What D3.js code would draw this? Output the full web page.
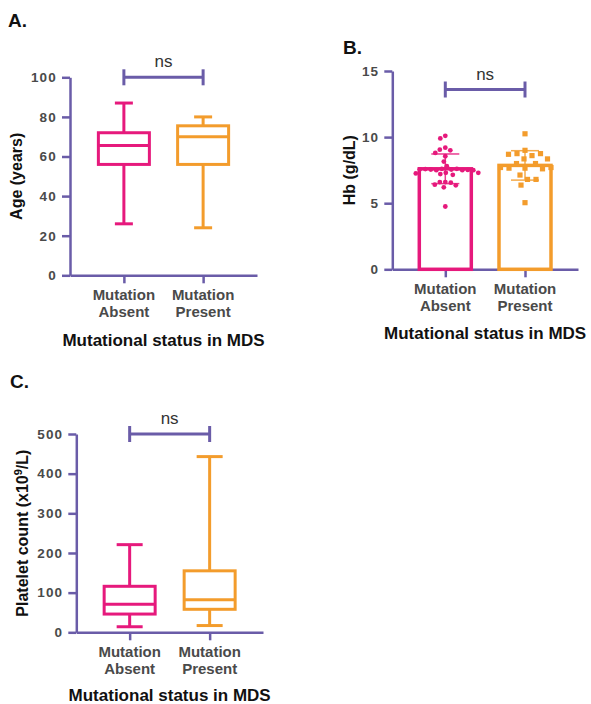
<!DOCTYPE html>
<html>
<head>
<meta charset="utf-8">
<script src="https://cdn.jsdelivr.net/npm/d3@7"></script>
<style>
  html, body { margin: 0; padding: 0; background: #ffffff; }
  svg { display: block; font-family: "Liberation Sans", Arial, sans-serif; }
</style>
</head>
<body>
<svg id="chart" width="591" height="704"></svg>
<script>
// ---------------- DATA ----------------
const categories = ["Mutation Absent", "Mutation Present"];
const categoryLines = [["Mutation", "Absent"], ["Mutation", "Present"]];
const xTitle = "Mutational status in MDS";

// Panel A: Age (years) box plot [min, q1, median, q3, max]
const ageTicks = [0, 20, 40, 60, 80, 100];
const ageAbsent = [26, 56, 65.5, 72, 87];
const agePresent = [24, 56, 70, 75.5, 80];

// Panel B: Hb (g/dL) individual values
const hbTicks = [0, 5, 10, 15];
const hbAbsent = [10.1, 9.9, 9.2, 9.05, 9.0, 8.8, 8.55, 8.15, 7.8,
  7.6, 7.55, 7.5, 7.6, 7.55, 7.5, 7.58, 7.52, 7.56, 7.5,
  7.3, 7.25, 7.2, 7.3, 7.15, 6.6, 6.6, 6.55, 6.4, 6.35, 6.2, 4.75];
const hbPresent = [10.25, 9.0, 8.75, 8.6, 8.75, 8.7, 8.35, 8.35, 8.0, 8.0,
  7.65, 7.65, 7.6, 7.7, 7.7, 7.13, 6.8, 6.8, 6.37, 5.04];

// Panel C: Platelet count box plot [min, q1, median, q3, max]
const pltTicks = [0, 100, 200, 300, 400, 500];
const pltAbsent = [14, 46, 71, 116, 221];
const pltPresent = [17, 58, 82, 155, 443];

const sigLabel = "ns";

// ---------------- STYLE ----------------
const PINK = "#E6197C";
const ORANGE = "#F39C2C";
const AXIS = "#6A5CA8";
const TICKTXT = "#4a4a4a";
const colors = [PINK, ORANGE];

const svg = d3.select("#chart");

function panel(opts) {
  const g = svg.append("g");
  const x = d3.scalePoint().domain(categories).range(opts.xRange).padding(opts.pad);
  const y = d3.scaleLinear().domain(opts.domain).range(opts.yRange);

  // y axis
  const yAxis = d3.axisLeft(y).tickValues(opts.ticks).tickSize(8).tickPadding(5).tickSizeOuter(0);
  const ya = g.append("g").attr("transform", `translate(${opts.xRange[0]},0)`).call(yAxis);
  ya.select(".domain").attr("stroke", AXIS).attr("stroke-width", 2.5);
  ya.selectAll(".tick line").attr("stroke", AXIS).attr("stroke-width", 2.5);
  ya.selectAll(".tick text").attr("fill", TICKTXT).attr("font-size", 13.5).attr("font-weight", "bold")
    .attr("letter-spacing", "1.2px").attr("font-family", "'Liberation Sans', Arial, sans-serif");

  // x axis
  const xAxis = d3.axisBottom(x).tickSize(8).tickSizeOuter(0).tickFormat("");
  const xa = g.append("g").attr("transform", `translate(0,${opts.yRange[0]})`).call(xAxis);
  xa.select(".domain").attr("stroke", AXIS).attr("stroke-width", 2.5);
  xa.selectAll(".tick line").attr("stroke", AXIS).attr("stroke-width", 2.5);

  // category labels
  categories.forEach((c, i) => {
    const t = g.append("text").attr("x", x(c)).attr("text-anchor", "middle")
      .attr("fill", TICKTXT).attr("font-size", 15).attr("font-weight", "bold");
    t.append("tspan").attr("x", x(c)).attr("y", opts.yRange[0] + 25).text(categoryLines[i][0]);
    t.append("tspan").attr("x", x(c)).attr("y", opts.yRange[0] + 41.5).text(categoryLines[i][1]);
  });

  // x title
  const xmid = (x(categories[0]) + x(categories[1])) / 2;
  g.append("text").attr("x", xmid).attr("y", opts.xTitleY).attr("text-anchor", "middle")
    .attr("font-size", 17).attr("font-weight", "bold").attr("fill", "#111").text(xTitle);

  // y title
  const yt = g.append("text").attr("transform", `translate(${opts.yTitleX},${(opts.yRange[0] + opts.yRange[1]) / 2}) rotate(-90)`)
    .attr("text-anchor", "middle").attr("font-size", 16).attr("font-weight", "bold").attr("fill", "#111");
  opts.yTitle.forEach(p => {
    const ts = yt.append("tspan").text(p.t);
    if (p.sup) ts.attr("font-size", 11).attr("dy", -6);
    if (p.after) ts.attr("dy", 6);
  });

  // panel label
  g.append("text").attr("x", opts.label[1]).attr("y", opts.label[2]).attr("font-size", 19)
    .attr("font-weight", "bold").attr("fill", "#111").text(opts.label[0]);

  // significance bracket
  const by = y(opts.bracket);
  const x0 = x(categories[0]), x1 = x(categories[1]);
  const bg = g.append("g").attr("stroke", AXIS).attr("stroke-width", 3).attr("fill", "none");
  bg.append("line").attr("x1", x0).attr("x2", x1).attr("y1", by).attr("y2", by);
  bg.append("line").attr("x1", x0).attr("x2", x0).attr("y1", by - 8).attr("y2", by + 8);
  bg.append("line").attr("x1", x1).attr("x2", x1).attr("y1", by - 8).attr("y2", by + 8);
  g.append("text").attr("x", (x0 + x1) / 2).attr("y", by - 10).attr("text-anchor", "middle")
    .attr("font-size", 17).attr("fill", "#333").text(sigLabel);

  return { g, x, y };
}

function boxes(p, data, boxW, capW) {
  data.forEach((d, i) => {
    const cx = p.x(categories[i]);
    const col = colors[i];
    const gg = p.g.append("g").attr("stroke", col).attr("stroke-width", 3).attr("fill", "none");
    const [mn, q1, md, q3, mx] = d;
    gg.append("line").attr("x1", cx).attr("x2", cx).attr("y1", p.y(mx)).attr("y2", p.y(q3));
    gg.append("line").attr("x1", cx).attr("x2", cx).attr("y1", p.y(q1)).attr("y2", p.y(mn));
    gg.append("line").attr("x1", cx - capW / 2).attr("x2", cx + capW / 2).attr("y1", p.y(mx)).attr("y2", p.y(mx));
    gg.append("line").attr("x1", cx - capW / 2).attr("x2", cx + capW / 2).attr("y1", p.y(mn)).attr("y2", p.y(mn));
    gg.append("rect").attr("x", cx - boxW / 2).attr("width", boxW)
      .attr("y", p.y(q3)).attr("height", p.y(q1) - p.y(q3)).attr("fill", "white");
    gg.append("line").attr("x1", cx - boxW / 2).attr("x2", cx + boxW / 2).attr("y1", p.y(md)).attr("y2", p.y(md));
  });
}

function swarm(vals, y, minDist) {
  const placed = [];
  const out = new Array(vals.length);
  vals.map((v, i) => ({ v, i })).forEach(({ v, i }) => {
    const py = y(v);
    let best = 0;
    for (let k = 0; k < 400; k++) {
      const off = (k % 2 === 0 ? 1 : -1) * Math.ceil(k / 2) * 0.5;
      const ok = placed.every(p => (p.x - off) ** 2 + (p.y - py) ** 2 >= minDist * minDist);
      if (ok) { best = off; break; }
    }
    placed.push({ x: best, y: py });
    out[i] = best;
  });
  return out;
}

// ---------------- PANEL A ----------------
const pA = panel({
  xRange: [70, 257], pad: 0.68, domain: [0, 100], yRange: [275.3, 77.3], ticks: ageTicks,
  xTitleY: 346, yTitleX: 22, yTitle: [{ t: "Age (years)" }], label: ["A.", 8, 27], bracket: 100
});
boxes(pA, [ageAbsent, agePresent], 51, 18);

// ---------------- PANEL B ----------------
const pB = panel({
  xRange: [392.3, 578], pad: 0.665, domain: [0, 15], yRange: [269.3, 71], ticks: hbTicks,
  xTitleY: 339, yTitleX: 355, yTitle: [{ t: "Hb (g/dL)" }], label: ["B.", 343, 54], bracket: 13.6
});
[hbAbsent, hbPresent].forEach((vals, i) => {
  const cx = pB.x(categories[i]);
  const col = colors[i];
  const mean = d3.mean(vals), sd = d3.deviation(vals);
  const bw = 52;
  pB.g.append("rect").attr("x", cx - bw / 2).attr("width", bw)
    .attr("y", pB.y(mean)).attr("height", pB.y(0) - pB.y(mean))
    .attr("fill", "white").attr("stroke", col).attr("stroke-width", 3.5);
  const offs = swarm(vals, pB.y, i === 0 ? 5.4 : 8.5);
  if (i === 0) {
    pB.g.selectAll(null).data(vals).join("circle")
      .attr("cx", (d, k) => cx + offs[k]).attr("cy", d => pB.y(d)).attr("r", 2.4).attr("fill", col);
  } else {
    pB.g.selectAll(null).data(vals).join("rect")
      .attr("x", (d, k) => cx + offs[k] - 2.6).attr("y", d => pB.y(d) - 2.6)
      .attr("width", 5.2).attr("height", 5.2).attr("fill", col);
  }
  const eg = pB.g.append("g").attr("stroke", col).attr("stroke-width", 1.5).attr("opacity", 0.85);
  const cw = 28;
  eg.append("line").attr("x1", cx).attr("x2", cx).attr("y1", pB.y(mean + sd)).attr("y2", pB.y(mean - sd));
  eg.append("line").attr("x1", cx - cw / 2).attr("x2", cx + cw / 2).attr("y1", pB.y(mean + sd)).attr("y2", pB.y(mean + sd));
  eg.append("line").attr("x1", cx - cw / 2).attr("x2", cx + cw / 2).attr("y1", pB.y(mean - sd)).attr("y2", pB.y(mean - sd));
});

// ---------------- PANEL C ----------------
const pC = panel({
  xRange: [76.3, 263], pad: 0.667, domain: [0, 500], yRange: [632.3, 434], ticks: pltTicks,
  xTitleY: 701, yTitleX: 28,
  yTitle: [{ t: "Platelet count (x10" }, { t: "9", sup: true }, { t: "/L)", after: true }],
  label: ["C.", 10, 388], bracket: 500
});
boxes(pC, [pltAbsent, pltPresent], 51, 26);
</script>
</body>
</html>
